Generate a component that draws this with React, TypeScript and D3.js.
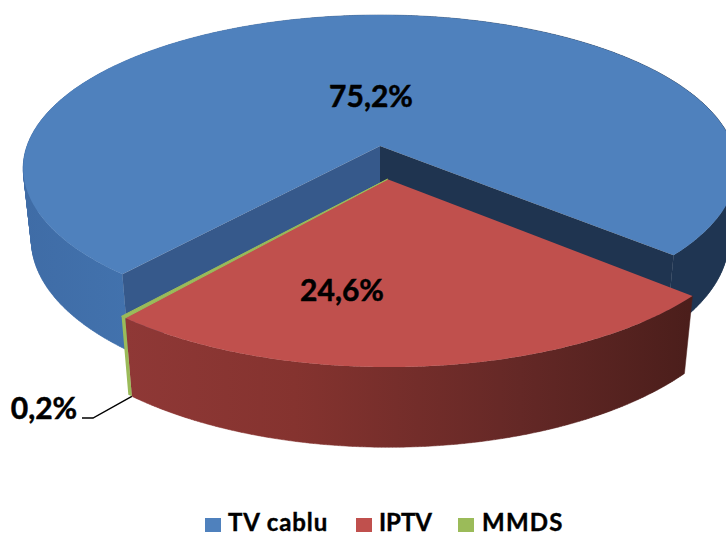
import React from "react";
import * as d3 from "d3";

const categories = ["TV cablu", "IPTV", "MMDS"];
const shares = [75.2, 24.6, 0.2];
const valueLabels = ["75,2%", "24,6%", "0,2%"];
const colors = ["#4f81bd", "#c0504d", "#9bbb59"];

const W = 726, H = 536;
const deg = Math.PI / 180;
const start = 220.5 * deg;

// Perspective projection of the unit disk onto the picture
const X0 = 380, Y0 = 146, F = 353, G = 150, K = 0.145, Q = 0.023, D = 73;
type P = [number, number];
const project = (x: number, y: number, low: boolean): P => {
  const w = 1 - K * y + (low ? Q : 0);
  return [X0 + (F * x) / w, Y0 + (G * y + (low ? D : 0)) / w];
};

const arcs = d3
  .pie<number>()
  .sort(null)
  .startAngle(start)
  .endAngle(start + 2 * Math.PI)(shares);

const EXPLODE = 0.215;
const redMid = (arcs[1].startAngle + arcs[1].endAngle) / 2;
const off: P = [EXPLODE * Math.sin(redMid) + 0.004, -EXPLODE * Math.cos(redMid)];

const rimPt = (a: number, o: P, low: boolean) =>
  project(Math.sin(a) + o[0], -Math.cos(a) + o[1], low);
const rim = (a0: number, a1: number, o: P, low: boolean): P[] => {
  const n = Math.max(2, Math.ceil(Math.abs(a1 - a0) / (0.5 * deg)));
  return d3.range(n + 1).map((i) => rimPt(a0 + ((a1 - a0) * i) / n, o, low));
};
const line = d3.line<P>().curve(d3.curveLinear);
const closed = (pts: P[]) => line(pts) + "Z";
const zero: P = [0, 0];

const topFace = (a0: number, a1: number, o: P) =>
  closed([project(o[0], o[1], false), ...rim(a0, a1, o, false)]);
// wall as a union of narrow quads, so the silhouette between both rims is filled
const wall = (a0: number, a1: number, o: P) => {
  const t = rim(a0, a1, o, false);
  const b = rim(a0, a1, o, true);
  return d3
    .range(t.length - 1)
    .map((i) => {
      const q: P[] = [t[i], t[i + 1], b[i + 1], b[i]];
      return d3.polygonArea(q) < 0 ? closed(q) : closed(q.slice().reverse());
    })
    .join("");
};
const cut = (a: number, o: P) =>
  closed([project(o[0], o[1], false), rimPt(a, o, false), rimPt(a, o, true), project(o[0], o[1], true)]);

export default function App() {
  const [blue, red, green] = arcs;
  const legend = [
    { sq: 205, tx: 228, ls: 0.9 },
    { sq: 356, tx: 379, ls: 0 },
    { sq: 458, tx: 482, ls: 1.2 },
  ];
  const font = "Lato, 'Noto Sans', sans-serif";
  return (
    <svg width={W} height={H} style={{ position: "absolute", left: 0, top: 0, background: "#fff" }}>
      <defs>
        <linearGradient id="blueWall" gradientUnits="userSpaceOnUse" x1={23} x2={726} y1={0} y2={0}>
          <stop offset="0" stopColor="#3f6ca6" />
          <stop offset="0.15" stopColor="#4272ad" />
          <stop offset="0.8" stopColor="#1f3552" />
          <stop offset="1" stopColor="#1f3552" />
        </linearGradient>
        <linearGradient id="redWall" gradientUnits="userSpaceOnUse" x1={125} x2={690} y1={0} y2={0}>
          <stop offset="0" stopColor="#8f3836" />
          <stop offset="0.3" stopColor="#85332f" />
          <stop offset="0.7" stopColor="#642826" />
          <stop offset="1" stopColor="#4b1e1b" />
        </linearGradient>
      </defs>

      <path d={wall(blue.startAngle, blue.endAngle, zero)} fill="url(#blueWall)" stroke="url(#blueWall)" strokeWidth={0.5} />
      <path d={topFace(blue.startAngle, blue.endAngle, zero)} fill={colors[0]} />
      <path d={cut(blue.startAngle, zero)} fill="#36598b" />
      <path d={cut(blue.endAngle, zero)} fill="#1f3450" />

      <path d={wall(red.startAngle, red.endAngle, off)} fill="url(#redWall)" stroke="url(#redWall)" strokeWidth={0.5} />
      <path d={topFace(red.startAngle, red.endAngle, off)} fill={colors[1]} />

      <path d={wall(green.startAngle, green.endAngle, off)} fill={colors[2]} />
      <path d={topFace(green.startAngle, green.endAngle, off)} fill={colors[2]} stroke={colors[2]} strokeWidth={1} />

      <g fontFamily={font} fontWeight={700} fontSize={30} fill="#000" stroke="#000" strokeWidth={0.5}>
        <text x={371} y={107} textAnchor="middle">{valueLabels[0]}</text>
        <text x={342} y={301} textAnchor="middle">{valueLabels[1]}</text>
        <text x={44} y={419} textAnchor="middle">{valueLabels[2]}</text>
      </g>
      <path
        d={line([[82, 418], [93, 418], rimPt(green.startAngle, off, true)] as P[]) as string}
        fill="none"
        stroke="#000"
        strokeWidth={1.4}
      />

      {categories.map((c, i) => (
        <g key={c}>
          <rect x={legend[i].sq} y={518} width={16} height={14} fill={colors[i]} />
          <text x={legend[i].tx} y={531} fontFamily={font} fontWeight={700} fontSize={24} letterSpacing={legend[i].ls} fill="#000" stroke="#000" strokeWidth={0.4}>{c}</text>
        </g>
      ))}
    </svg>
  );
}
